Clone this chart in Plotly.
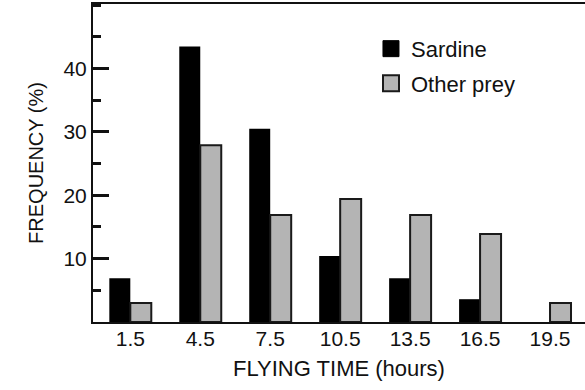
import plotly.graph_objects as go

# Data
flying_time = [1.5, 4.5, 7.5, 10.5, 13.5, 16.5, 19.5]          # bin centres (hours)
tick_labels = ["1.5", "4.5", "7.5", "10.5", "13.5", "16.5", "19.5"]
bin_edges = [3, 6, 9, 12, 15, 18]                                # tick marks between bins
sardine = [6.9, 43.5, 30.5, 10.4, 6.9, 3.6, 0]
other_prey = [3.0, 27.9, 16.9, 19.4, 16.9, 13.9, 3.0]
y_major = [10, 20, 30, 40]

FONT = "Liberation Sans, Arial, Helvetica, sans-serif"
INK = "#111111"

fig = go.Figure()
fig.add_trace(go.Bar(
    x=flying_time, y=sardine, name="Sardine",
    marker=dict(color="#000000", line=dict(width=0)),
    showlegend=False,
))
fig.add_trace(go.Bar(
    x=flying_time, y=other_prey, name="Other prey",
    marker=dict(color="#b4b4b4", line=dict(color="#1a1a1a", width=2)),
    showlegend=False,
))
# legend-only entries (bigger square swatches than bar legend symbols)
fig.add_trace(go.Scatter(
    x=[None], y=[None], mode="markers", name="Sardine", legendgroup="s",
    marker=dict(symbol="square", size=16, color="#000000",
                line=dict(color="#000000", width=1)),
))
fig.add_trace(go.Scatter(
    x=[None], y=[None], mode="markers", name="Other prey", legendgroup="o",
    marker=dict(symbol="square", size=16, color="#b4b4b4",
                line=dict(color="#1a1a1a", width=2)),
))

x_range = [-0.1, 21.0]

fig.update_layout(
    width=585, height=390,
    margin=dict(l=93, r=0, t=4, b=68),
    paper_bgcolor="white", plot_bgcolor="white",
    barmode="group", bargap=0.4, bargroupgap=0,
    font=dict(family=FONT, color=INK, size=21),
    showlegend=True,
    legend=dict(
        x=0.565, y=0.925, xanchor="left", yanchor="top",
        bgcolor="rgba(0,0,0,0)", borderwidth=0,
        font=dict(family=FONT, size=22, color=INK),
        itemwidth=30, tracegroupgap=3,
    ),
    xaxis=dict(
        range=x_range,
        tickmode="array", tickvals=flying_time, ticktext=tick_labels,
        ticks="", ticklen=0,
        showline=True, linecolor=INK, linewidth=2, mirror=True,
        showgrid=False, zeroline=False,
        tickfont=dict(size=21),
        ticklabelstandoff=-3,
        title=dict(text="FLYING TIME (hours)", font=dict(size=22), standoff=11),
    ),
    xaxis2=dict(
        overlaying="x", matches="x", range=x_range, anchor="y", side="bottom",
        tickmode="array", tickvals=bin_edges, showticklabels=False,
        ticks="inside", ticklen=14, tickwidth=3, tickcolor=INK,
        showline=False, showgrid=False, zeroline=False,
    ),
    yaxis=dict(
        range=[0, 50.2],
        tickmode="array", tickvals=y_major,
        ticks="inside", ticklen=16, tickwidth=3, tickcolor=INK,
        minor=dict(tickmode="linear", tick0=0, dtick=5, ticks="inside",
                   ticklen=8, tickwidth=3, tickcolor=INK, showgrid=False),
        showline=True, linecolor=INK, linewidth=2, mirror=False,
        showgrid=False, zeroline=False,
        tickfont=dict(size=21),
        ticklabelstandoff=0,
        title=dict(text="FREQUENCY (%)", font=dict(size=20), standoff=14),
    ),
)

fig.write_html(
    "out.html",
    config={"displayModeBar": False},
    post_script="document.body.style.margin='0px';document.body.style.overflow='hidden';",
)
